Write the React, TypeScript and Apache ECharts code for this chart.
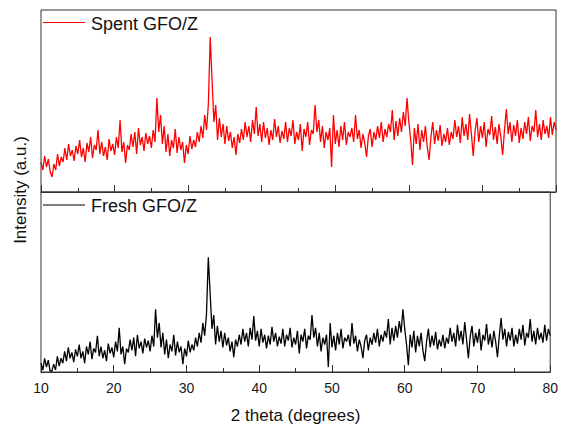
import React, { useEffect, useRef } from "react";
import * as echarts from "echarts";

// XRD scan: 2θ from 10° to 80° in 0.25° steps
const scanStart = 10;
const scanStep = 0.25;

// Spent GFO/Z intensity (a.u.)
const spent = [
  30, 22, 36, 25, 33, 20, 15, 28, 22, 38, 26, 35, 30, 44, 32, 48, 36, 42, 31, 46,
  38, 52, 35, 44, 30, 49, 40, 55, 34, 47, 42, 62, 38, 50, 36, 45, 32, 53, 41, 48,
  37, 55, 44, 72, 40, 50, 29, 47, 42, 58, 45, 60, 38, 64, 47, 55, 41, 59, 48, 56,
  44, 62, 50, 94, 60, 77, 48, 66, 40, 58, 36, 52, 44, 63, 39, 55, 42, 50, 29, 47,
  38, 56, 43, 52, 45, 60, 50, 66, 54, 77, 62, 88, 155, 112, 70, 87, 52, 74, 55, 68,
  48, 66, 51, 60, 44, 55, 37, 58, 49, 63, 52, 70, 55, 66, 50, 72, 58, 85, 56, 68,
  50, 70, 54, 64, 47, 62, 52, 73, 55, 66, 49, 61, 53, 70, 50, 64, 56, 72, 48, 60,
  52, 68, 41, 63, 55, 70, 47, 62, 58, 87, 60, 72, 50, 66, 44, 60, 52, 64, 25, 77,
  48, 62, 45, 66, 52, 70, 47, 60, 55, 64, 50, 77, 53, 62, 44, 58, 49, 35, 56, 63,
  45, 60, 52, 66, 54, 70, 50, 63, 55, 68, 60, 82, 52, 71, 56, 74, 60, 80, 66, 94,
  70, 52, 27, 64, 48, 68, 42, 62, 50, 66, 45, 32, 55, 70, 48, 62, 51, 67, 46, 58,
  50, 64, 47, 60, 53, 72, 55, 66, 49, 75, 56, 68, 52, 78, 58, 36, 61, 74, 50, 66,
  54, 70, 45, 63, 57, 76, 52, 65, 48, 68, 55, 37, 62, 83, 58, 70, 50, 67, 56, 72,
  49, 64, 53, 70, 58, 75, 51, 66, 60, 82, 55, 68, 52, 72, 58, 66, 54, 75, 57, 70,
  62,
];

// Fresh GFO/Z intensity (a.u.)
const fresh = [
  9, 2, 14, 5, 12, 1, 1, 8, 2, 16, 6, 14, 9, 21, 11, 25, 14, 20, 10, 23,
  16, 28, 14, 21, 9, 26, 18, 31, 13, 24, 20, 37, 16, 26, 14, 22, 11, 29, 19, 25,
  15, 31, 21, 45, 18, 26, 8, 24, 20, 33, 22, 35, 16, 38, 24, 31, 19, 34, 25, 32,
  21, 37, 26, 64, 35, 50, 25, 40, 18, 33, 14, 28, 21, 38, 17, 31, 20, 26, 8, 24,
  16, 32, 20, 28, 22, 35, 26, 40, 30, 50, 37, 59, 117, 80, 44, 58, 28, 47, 31, 42,
  25, 40, 27, 35, 21, 31, 15, 33, 26, 38, 28, 44, 31, 40, 26, 45, 33, 57, 32, 42,
  26, 44, 30, 38, 24, 37, 28, 46, 31, 40, 26, 36, 29, 44, 26, 38, 32, 45, 25, 35,
  28, 42, 19, 38, 31, 44, 24, 37, 33, 58, 35, 45, 26, 40, 21, 35, 28, 38, 5, 50,
  25, 37, 22, 40, 28, 44, 24, 35, 31, 38, 26, 50, 29, 37, 21, 33, 26, 14, 32, 38,
  22, 35, 28, 40, 30, 44, 26, 38, 31, 42, 35, 54, 28, 45, 32, 47, 35, 52, 40, 64,
  44, 28, 7, 38, 25, 42, 20, 37, 26, 40, 22, 11, 31, 44, 25, 37, 27, 41, 23, 33,
  26, 38, 24, 35, 29, 45, 31, 40, 26, 48, 32, 42, 28, 51, 33, 14, 36, 47, 26, 40,
  30, 44, 22, 38, 32, 49, 28, 39, 25, 42, 31, 15, 37, 55, 33, 44, 26, 41, 32, 45,
  26, 38, 29, 44, 33, 48, 27, 40, 35, 54, 31, 42, 28, 45, 33, 40, 30, 48, 32, 44,
  37,
];

const seriesNames = ["Spent GFO/Z", "Fresh GFO/Z"];
const seriesColors = ["#ff0000", "#000000"];

const FONT = 'Arial, "Liberation Sans", sans-serif';

export default function App() {
  const ref = useRef<HTMLDivElement>(null);

  useEffect(() => {
    if (!ref.current) return;
    const chart = echarts.init(ref.current, null, { renderer: "svg" });
    const toPairs = (arr: number[]) =>
      arr.map((v, i) => [scanStart + i * scanStep, v]);

    const xBase = {
      type: "value",
      min: 10,
      max: 80,
      interval: 10,
      splitLine: { show: false },
      axisLine: { show: true, onZero: false, lineStyle: { color: "#333", width: 1 } },
      axisTick: { show: true, inside: true, length: 7, lineStyle: { color: "#333" } },
      minorTick: { show: true, splitNumber: 2, length: 4, lineStyle: { color: "#333" } },
    };
    const yBase = {
      type: "value",
      axisLine: { show: false },
      axisTick: { show: false },
      axisLabel: { show: false },
      splitLine: { show: false },
    };

    chart.setOption({
      animation: false,
      backgroundColor: "#ffffff",
      grid: [
        { left: 41, right: 5, top: 10, height: 182, show: true, borderColor: "#333", borderWidth: 1 },
        { left: 41, right: 5, top: 192, height: 183.5, show: true, borderColor: "#333", borderWidth: 1 },
      ],
      xAxis: [
        { ...xBase, gridIndex: 0, axisLabel: { show: false } },
        {
          ...xBase,
          gridIndex: 1,
          axisLabel: { show: true, fontSize: 14, color: "#1a1a1a", fontFamily: FONT, margin: 9 },
          name: "2 theta (degrees)",
          nameLocation: "middle",
          nameGap: 35,
          nameTextStyle: { fontSize: 17, color: "#111", fontFamily: FONT },
        },
      ],
      yAxis: [
        { ...yBase, gridIndex: 0, min: 0, max: 182 },
        { ...yBase, gridIndex: 1, min: 0, max: 183.5 },
      ],
      series: [
        {
          name: seriesNames[0],
          type: "line",
          xAxisIndex: 0,
          yAxisIndex: 0,
          data: toPairs(spent),
          symbol: "none",
          lineStyle: { color: seriesColors[0], width: 1.3 },
          itemStyle: { color: seriesColors[0] },
        },
        {
          name: seriesNames[1],
          type: "line",
          xAxisIndex: 1,
          yAxisIndex: 1,
          data: toPairs(fresh),
          symbol: "none",
          lineStyle: { color: seriesColors[1], width: 1.3 },
          itemStyle: { color: seriesColors[1] },
        },
      ],
      graphic: [
        { type: "line", shape: { x1: 43, y1: 22.5, x2: 85, y2: 22.5 }, style: { stroke: seriesColors[0], lineWidth: 1 } },
        { type: "text", x: 91, y: 23.5, style: { text: seriesNames[0], fontSize: 18, fontFamily: FONT, fill: "#111", verticalAlign: "middle" } },
        { type: "line", shape: { x1: 43, y1: 205, x2: 85, y2: 205 }, style: { stroke: seriesColors[1], lineWidth: 1 } },
        { type: "text", x: 91, y: 206, style: { text: seriesNames[1], fontSize: 18, fontFamily: FONT, fill: "#111", verticalAlign: "middle" } },
        {
          type: "text",
          x: 20,
          y: 190,
          rotation: Math.PI / 2,
          style: { text: "Intensity (a.u.)", fontSize: 17, fontFamily: FONT, fill: "#111", align: "center", verticalAlign: "middle" },
        },
      ],
    });
    return () => chart.dispose();
  }, []);

  return (
    <div
      ref={ref}
      style={{ position: "fixed", left: 0, top: 0, width: 561, height: 425, background: "#fff" }}
    />
  );
}
